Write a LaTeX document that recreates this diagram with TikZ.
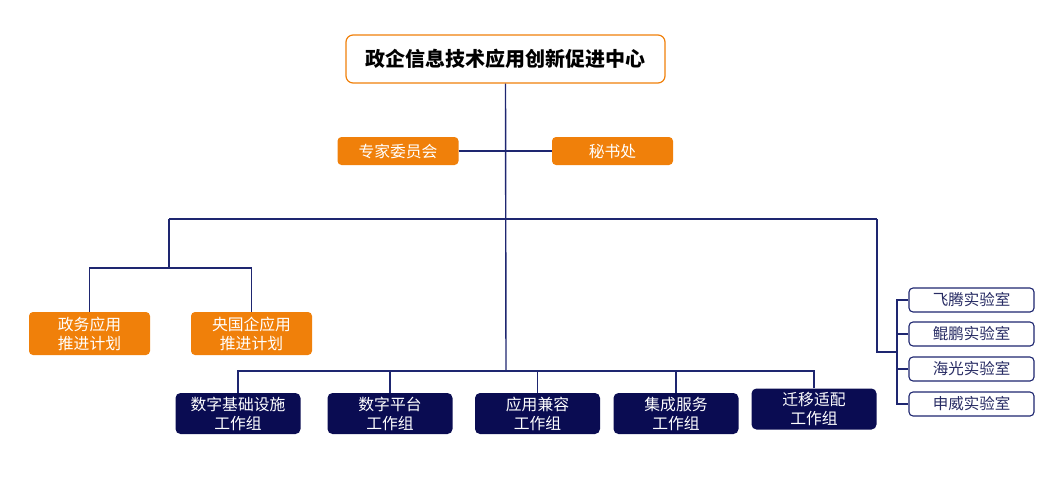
\documentclass[tikz,border=0pt]{standalone}
\usepackage{fontspec}
\setmainfont{Noto Sans CJK SC}
\definecolor{naranja}{RGB}{240,128,10}
\definecolor{marino}{RGB}{10,12,82}
\definecolor{linea}{RGB}{30,38,112}
\definecolor{textolab}{RGB}{40,44,100}
\tikzset{
  centro/.style={draw=naranja,line width=1.2pt,fill=white,rounded corners=7pt,
    minimum width=319pt,minimum height=48pt,font=\fontsize{20}{24}\selectfont\bfseries},
  naranjabox/.style={fill=naranja,rounded corners=4pt,text=white,align=center,
    minimum width=121pt,font=\fontsize{15.8}{19}\selectfont},
  grupo/.style={fill=marino,rounded corners=5pt,text=white,align=center,
    minimum width=125pt,minimum height=41pt,font=\fontsize{15.8}{19}\selectfont},
  lab/.style={draw=linea,line width=1.1pt,fill=white,rounded corners=4pt,text=textolab,
    minimum width=125pt,minimum height=24pt,font=\fontsize{15.5}{19}\selectfont},
  conector/.style={draw=linea,line width=1.4pt}
}
\begin{document}
\begin{tikzpicture}[x=1pt,y=-1pt]
    \useasboundingbox (0,0) rectangle (1052,479);
    % Nodo principal
    \node[centro] (centro) at (505.5,59) {政企信息技术应用创新促进中心};
    % Comite y secretaria
    \node[naranjabox,minimum height=28pt] (expertos) at (398,151) {专家委员会};
    \node[naranjabox,minimum height=28pt] (secretaria) at (612.5,151) {秘书处};
    % Planes de aplicacion
    \node[naranjabox,minimum height=43pt] (plan1) at (89.5,333.5) {政务应用\\推进计划};
    \node[naranjabox,minimum height=43pt] (plan2) at (251.5,333.5) {央国企应用\\推进计划};
    % Grupos de trabajo
    \node[grupo] (g1) at (238,413.5) {数字基础设施\\工作组};
    \node[grupo] (g2) at (390,413.5) {数字平台\\工作组};
    \node[grupo] (g3) at (537.5,413.5) {应用兼容\\工作组};
    \node[grupo] (g4) at (676,413.5) {集成服务\\工作组};
    \node[grupo] (g5) at (814,409) {迁移适配\\工作组};
    % Laboratorios
    \node[lab] (lab1) at (971.5,300) {飞腾实验室};
    \node[lab] (lab2) at (971.5,334) {鲲鹏实验室};
    \node[lab] (lab3) at (971.5,369) {海光实验室};
    \node[lab] (lab4) at (971.5,404) {申威实验室};
    % Puntos de las barras
    \coordinate (barrasup) at (506,219);
    \coordinate (barrainf) at (506,371);
    \coordinate (izq) at (169,219);
    \coordinate (izqbaja) at (169,268);
    \coordinate (der) at (877,219);
    \coordinate (derlab) at (897,352);
    % Conectores
    \draw[conector] (centro.south) -- (barrainf);
    \draw[conector] (expertos.east) -- (secretaria.west);
    \draw[conector] (izq) -- (der);
    \draw[conector] (izq) -- (izqbaja);
    \draw[conector] (plan1.north) |- (izqbaja);
    \draw[conector] (plan2.north) |- (izqbaja);
    \foreach \g in {g1,g2,g3,g4,g5}
      \draw[conector] (\g.north) |- (barrainf);
    \draw[conector] (der) |- (derlab);
    \foreach \l in {lab1,lab2,lab3,lab4}
      \draw[conector] (\l.west) -| (derlab);
\end{tikzpicture}
\end{document}
